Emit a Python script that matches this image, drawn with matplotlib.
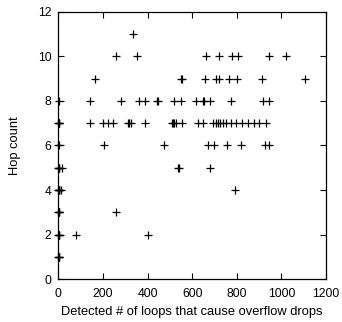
import matplotlib
matplotlib.use("Agg")
import matplotlib.pyplot as plt

plt.rcParams['font.family'] = ['Liberation Sans', 'DejaVu Sans']

# detected loops per hop count
loops_h11 = [337]
loops_h10 = [260, 352, 663, 722, 779, 804, 946, 1021]
loops_h9 = [166, 552, 556, 658, 707, 719, 767, 801, 913, 1106]
loops_h8 = [3, 140, 279, 361, 390, 444, 448, 518, 548, 618, 648, 655, 682, 775, 916, 946]
loops_h7 = [0, 1, 2, 3, 140, 200, 222, 245, 313, 318, 327, 387, 509, 515, 518, 528,
            555, 625, 648, 693, 707, 715, 725, 737, 752, 775, 797, 824, 849, 879,
            901, 931]
loops_h6 = [0, 1, 207, 473, 670, 696, 755, 819, 928, 946]
loops_h5 = [0, 1, 2, 3, 18, 536, 543, 678]
loops_h4 = [0, 1, 2, 3, 5, 13, 794]
loops_h3 = [0, 1, 2, 3, 257]
loops_h2 = [0, 1, 2, 3, 81, 401]
loops_h1 = [0, 1, 2, 3]

rows = {11: loops_h11, 10: loops_h10, 9: loops_h9, 8: loops_h8, 7: loops_h7,
        6: loops_h6, 5: loops_h5, 4: loops_h4, 3: loops_h3, 2: loops_h2, 1: loops_h1}

xs, ys = [], []
for hop, vals in rows.items():
    xs += vals
    ys += [hop] * len(vals)

fig = plt.figure(figsize=(3.42, 3.22), dpi=100)
ax = fig.add_axes([0.1705, 0.1326, 0.7827, 0.8311])

ax.plot(xs, ys, linestyle='none', marker='+', color='black',
        markersize=6, markeredgewidth=0.9, clip_on=False, zorder=3)

ax.set_xlim(0, 1200)
ax.set_ylim(0, 12)
ax.set_xticks([0, 200, 400, 600, 800, 1000, 1200])
ax.set_yticks([0, 2, 4, 6, 8, 10, 12])
ax.tick_params(direction='in', length=4, width=0.8, top=True, right=True,
               labelsize=8.7)
ax.tick_params(axis='x', pad=6.5)
ax.tick_params(axis='y', pad=5)
for s in ax.spines.values():
    s.set_linewidth(0.9)

ax.set_xlabel('Detected # of loops that cause overflow drops', fontsize=9.3, labelpad=4)
ax.set_ylabel('Hop count', fontsize=9.3, labelpad=12)

fig.savefig('out.png', dpi=100)
